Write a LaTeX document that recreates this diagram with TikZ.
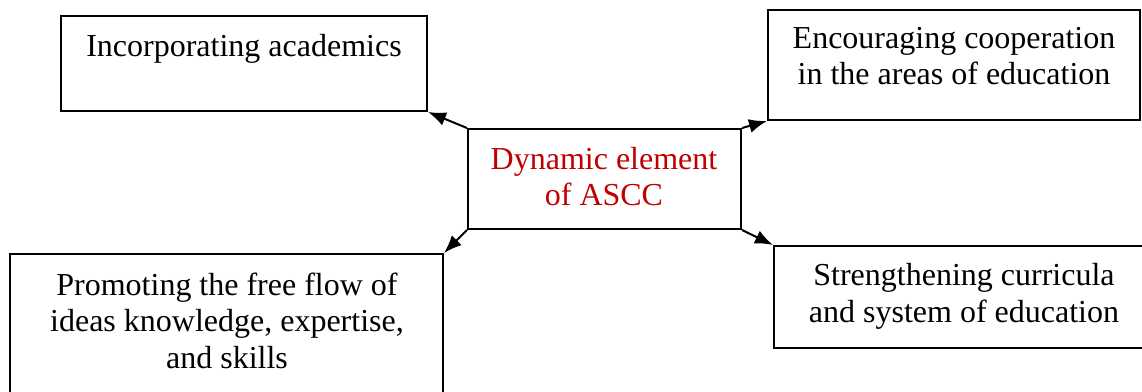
\documentclass[tikz,border=0pt]{standalone}
\usepackage{fontspec}
\setmainfont{Liberation Serif}
\usetikzlibrary{arrows.meta}
\definecolor{darkred}{HTML}{C00000}
\begin{document}
\begin{tikzpicture}[x=1pt,y=-1pt,
  boxstyle/.style={draw,line width=2pt,rectangle,inner sep=0pt},
  txt/.style={anchor=base,align=center,inner sep=0pt,font=\fontsize{32}{36.5}\selectfont},
  conn/.style={line width=2pt,-{Latex[length=18pt,width=14pt]}}]
\useasboundingbox (0,0) rectangle (1142,391);
\node[boxstyle,minimum width=366pt,minimum height=95pt] (tl) at (244,63.5) {};
\node[boxstyle,minimum width=372pt,minimum height=110pt] (tr) at (954,65) {};
\node[boxstyle,minimum width=273pt,minimum height=100pt] (c) at (604.5,179) {};
\node[boxstyle,minimum width=433pt,minimum height=146pt] (bl) at (226.5,327) {};
\node[boxstyle,minimum width=386pt,minimum height=102pt] (br) at (967,297) {};
\node[txt] (tltxt) at (244,56) {Incorporating academics};
\node[txt] (trtxt) at (954,84.5) {Encouraging cooperation\\in the areas of education};
\node[txt,text=darkred] (ctxt) at (604,205.5) {Dynamic element\\of ASCC};
\node[txt] (bltxt) at (227,368) {Promoting the free flow of\\ideas knowledge, expertise,\\and skills};
\node[txt] (brtxt) at (964,322) {Strengthening curricula\\and system of education};
\draw[conn] (c.north west) -- (tl.south east);
\draw[conn] (c.north east) -- (tr.south west);
\draw[conn] (c.south west) -- (bl.north east);
\draw[conn] (c.south east) -- (br.north west);
\end{tikzpicture}
\end{document}
